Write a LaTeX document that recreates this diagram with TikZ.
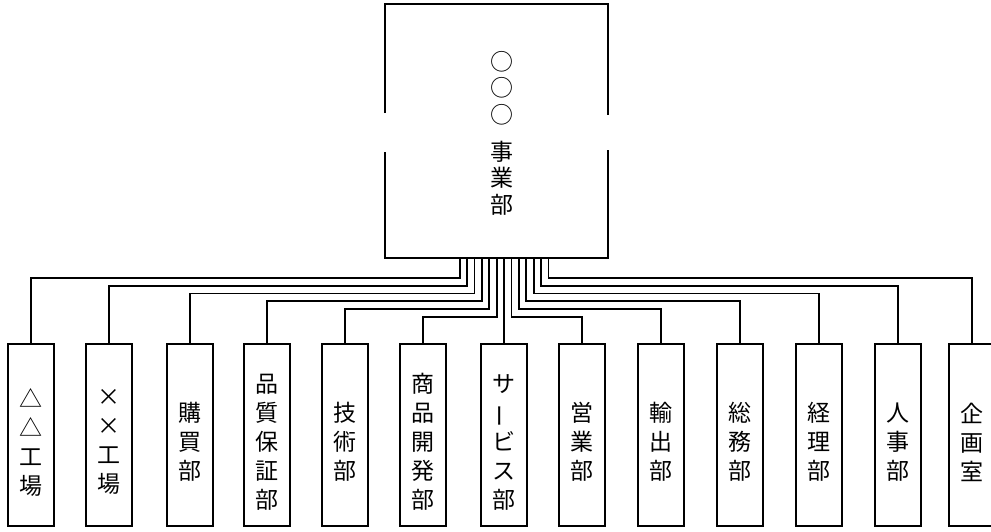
\documentclass[tikz,border=0pt]{standalone}
\usepackage{fontspec}
\newfontfamily\cjk{Noto Sans CJK JP}
\begin{document}
\begin{tikzpicture}[x=1pt,y=-1pt, line width=1.8pt,
  dept/.style={draw, minimum width=46pt, minimum height=182pt, inner sep=0pt},
  vtext/.style={font=\cjk\fontsize{23}{29}\selectfont, align=center, inner sep=0pt},
  ttext/.style={font=\cjk\fontsize{23}{26.5}\selectfont, align=center, inner sep=0pt},
  link/.style={line width=1.8pt}]
\useasboundingbox (0,0) rectangle (991,531);
% top box
\node[minimum width=221pt, minimum height=252pt, inner sep=0pt] (top) at (496.5,131) {};
\draw ([yshift=18pt]top.west) -- (top.north west) -- (top.north east) -- ([yshift=16pt]top.east);
\draw ([yshift=-19pt]top.east) -- (top.south east) -- (top.south west) -- ([yshift=-21pt]top.west);
\node[ttext] (circles) at ([xshift=5.5pt,yshift=43pt]top.center) {○\\○\\○};
\node[ttext] (toptext) at ([xshift=5.5pt,yshift=-47pt]top.center) {事\\業\\部};
% departments
\foreach \n/\cx in {1/31,2/109,3/190,4/267,5/345,6/423,7/504,8/582,9/661,10/740,11/819,12/898,13/972}
  \node[dept] (b\n) at (\cx,435) {};
\node[vtext] (t1) at ([yshift=-7pt]b1.center) {△\\△\\工\\場};
\node[vtext] (t2) at ([yshift=-7pt]b2.center) {×\\×\\工\\場};
\node[vtext] (t3) at ([yshift=-7pt]b3.center) {購\\買\\部};
\node[vtext] (t4) at ([yshift=-7pt]b4.center) {品\\質\\保\\証\\部};
\node[vtext] (t5) at ([yshift=-7pt]b5.center) {技\\術\\部};
\node[vtext] (t6) at ([yshift=-7pt]b6.center) {商\\品\\開\\発\\部};
\node[vtext] (t7) at ([yshift=-7pt]b7.center) {サ\\\rotatebox[origin=c]{90}{ー}\\ビ\\ス\\部};
\node[vtext] (t8) at ([yshift=-7pt]b8.center) {営\\業\\部};
\node[vtext] (t9) at ([yshift=-7pt]b9.center) {輸\\出\\部};
\node[vtext] (t10) at ([yshift=-7pt]b10.center) {総\\務\\部};
\node[vtext] (t11) at ([yshift=-7pt]b11.center) {経\\理\\部};
\node[vtext] (t12) at ([yshift=-7pt]b12.center) {人\\事\\部};
\node[vtext] (t13) at ([yshift=-7pt]b13.center) {企\\画\\室};
% connectors
\foreach \i/\k in {1/6,2/5,3/4,4/3,5/2,6/1}
  \draw[link] ([xshift={7.5-7.4*\k}]top.south) -- ++(0,{59-7.8*(\k-1)}) -| (b\i.north);
\draw[link] ([xshift=7.5pt]top.south) -- (b7.north);
\foreach \i/\k in {8/1,9/2,10/3,11/4,12/5,13/6}
  \draw[link] ([xshift={7.5+7.4*\k}]top.south) -- ++(0,{59-7.8*(\k-1)}) -| (b\i.north);
\end{tikzpicture}
\end{document}
